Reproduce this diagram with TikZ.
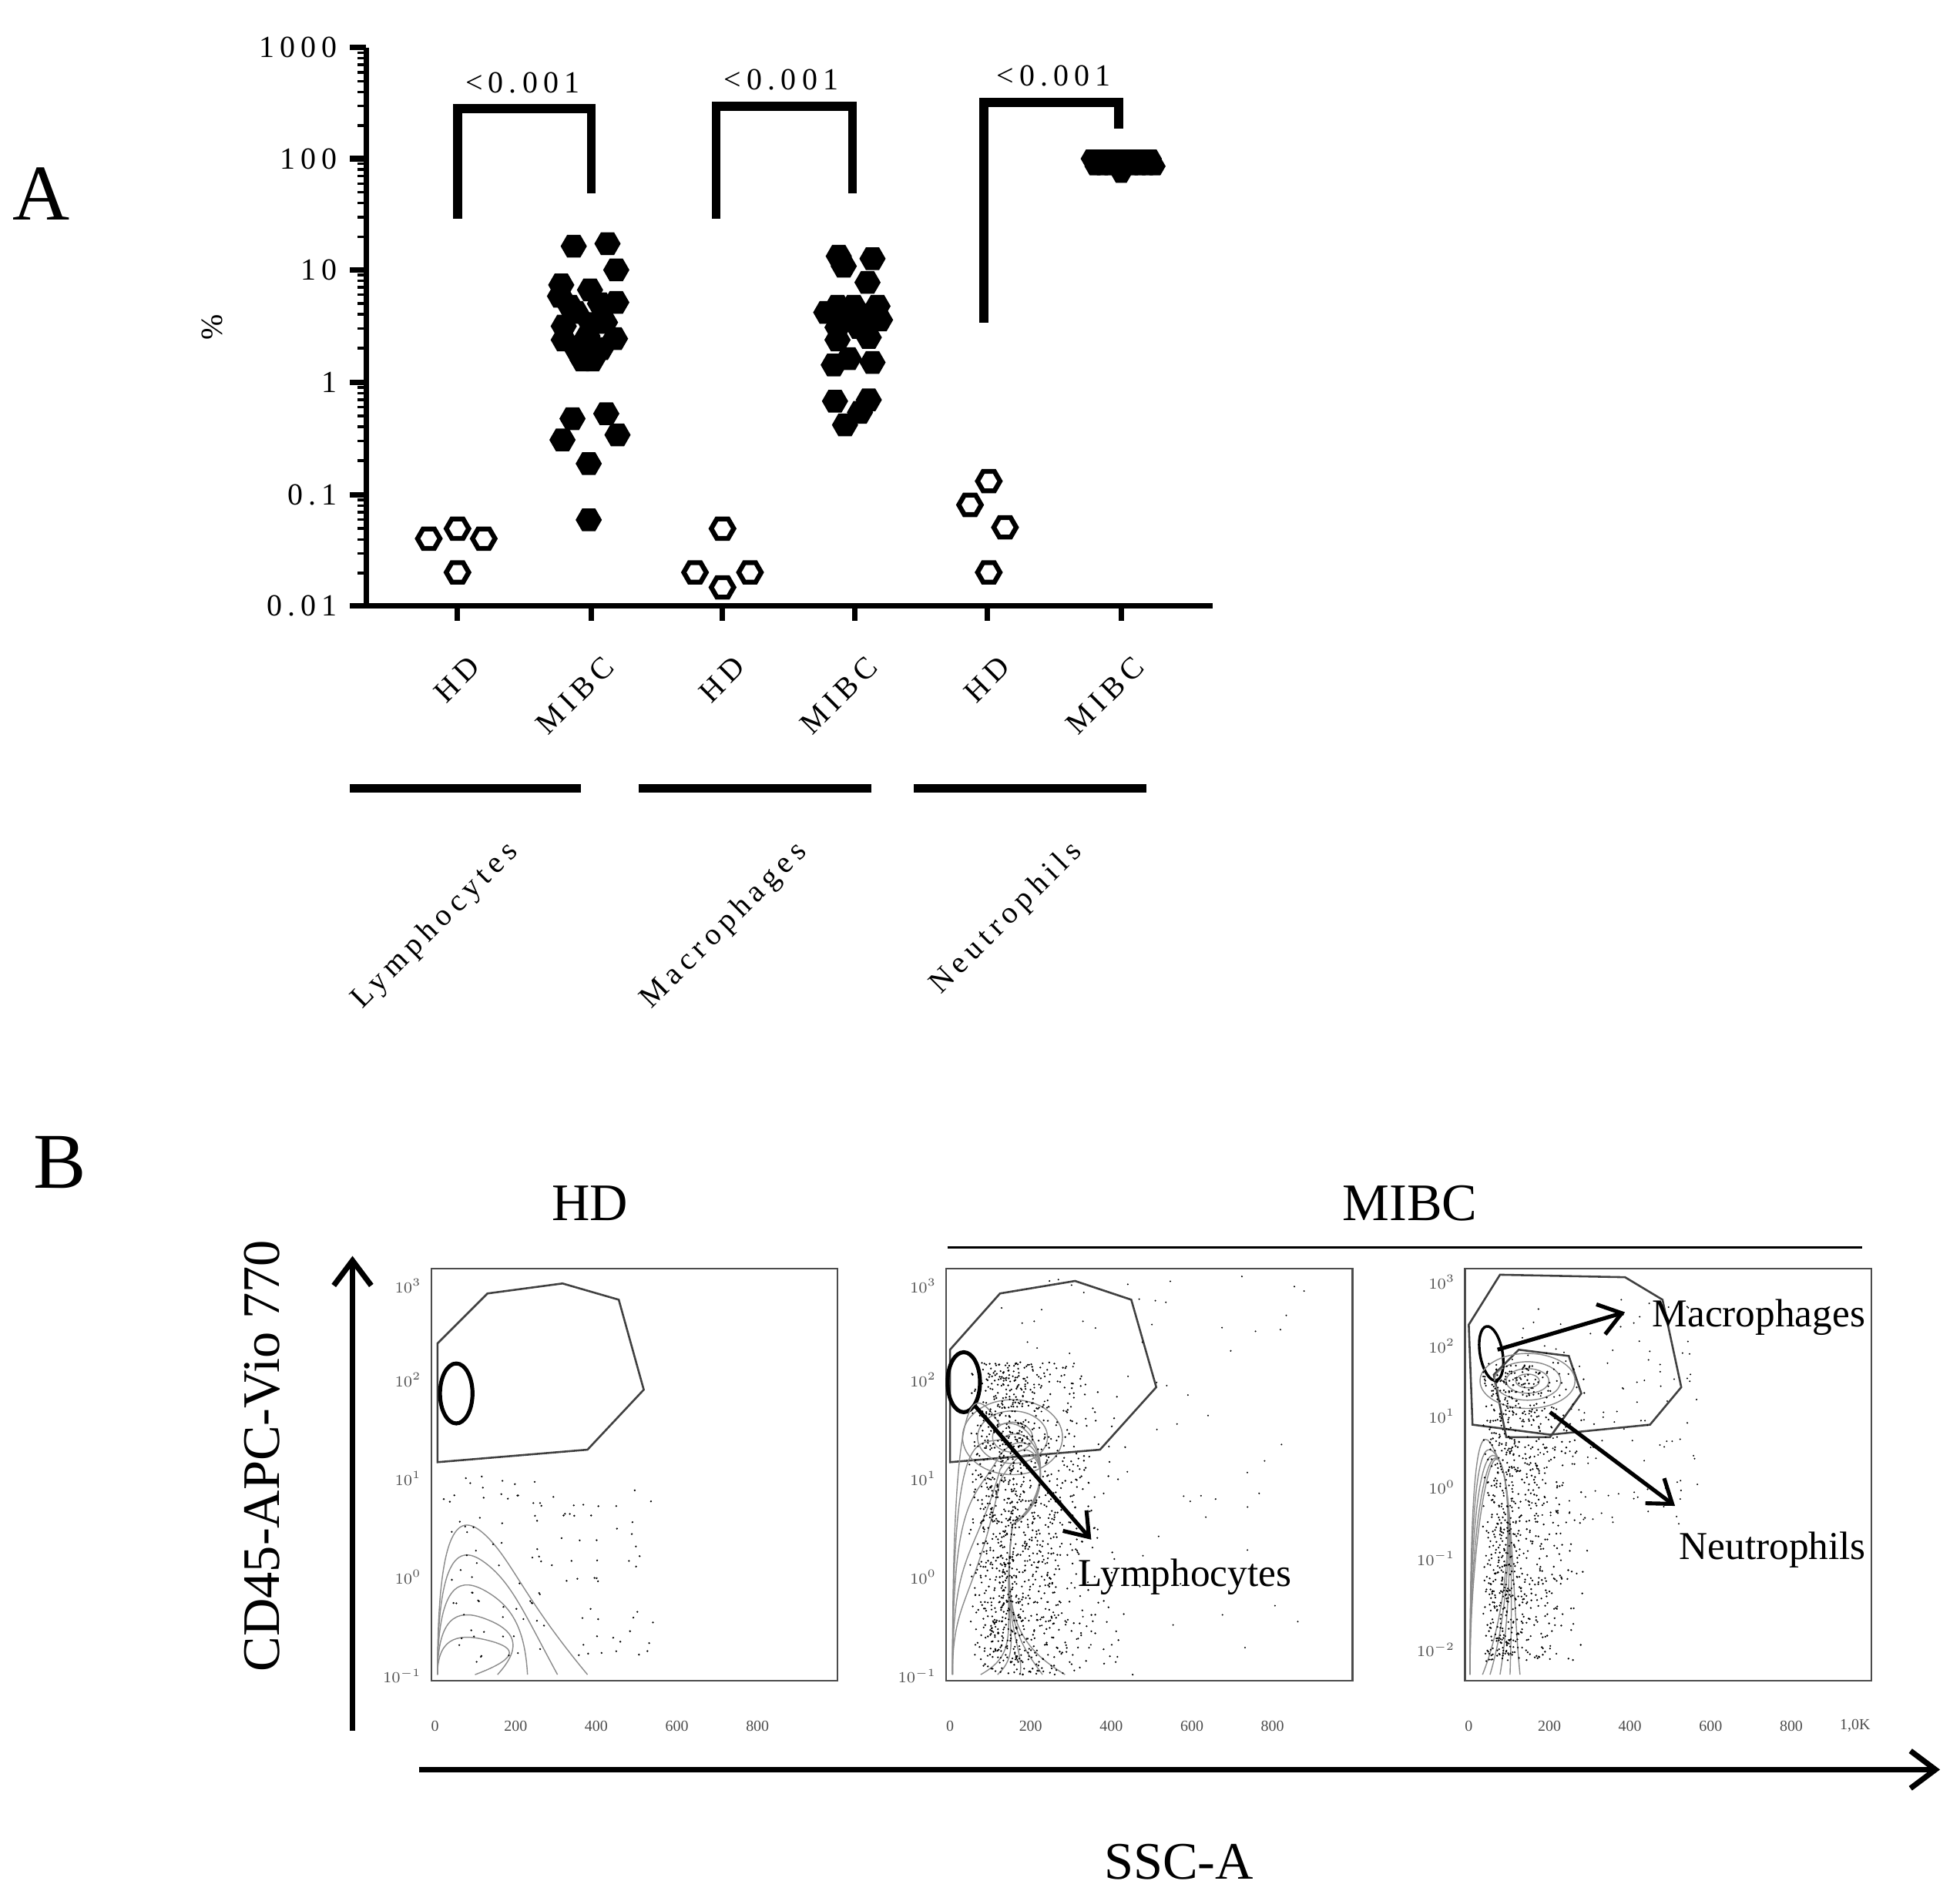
\documentclass[tikz,border=0pt]{standalone}
\usepackage{fontspec}
\setmainfont{Liberation Serif}
\newfontfamily\spc{Liberation Serif}[LetterSpace=18]
\usetikzlibrary{shapes.geometric,arrows.meta}
\begin{document}
\begin{tikzpicture}[x=0.02cm,y=-0.02cm,
 hexf/.style={regular polygon,regular polygon sides=6,fill=black,inner sep=0,minimum size=0.42cm},
 hexs/.style={regular polygon,regular polygon sides=6,fill=black,inner sep=0,minimum size=0.34cm},
 hexo/.style={regular polygon,regular polygon sides=6,draw=black,line width=2.2pt,fill=white,inner sep=0,minimum size=0.36cm},
 ax/.style={line width=2.5pt},
 tl/.style={font=\spc\fontsize{14}{14}\selectfont},
 gate/.style={draw=black!75,line width=0.9pt},
 cont/.style={draw=black!45,line width=0.5pt},
 sm/.style={font=\fontsize{7}{7}\selectfont,text=black!70},
 lbl/.style={font=\fontsize{18}{18}\selectfont},
 arr/.style={line width=1.8pt,-{Straight Barb[length=0.35cm,width=0.5cm]}}]
\useasboundingbox (0,0) rectangle (1568,1521);
\node[font=\fontsize{36}{36}\selectfont] (A) at (33,155) {A};
% axes
\draw[ax] (293,38) coordinate (yt) -- (293,485) coordinate (o) -- (970,485) coordinate (xr);
\foreach \y/\t in {38/1000,127/100,216/10,306/1,396/0.1,485/0.01}{
 \draw[ax] (280,\y)--(293,\y); \node[tl,anchor=east] at (276,\y) {\t};
 }
\foreach \d in {38,127,216,306,396}{\foreach \k in {2,...,9}{\draw[line width=1.2pt] (286,{\d+89.4*(1-log10(\k))})--(293,{\d+89.4*(1-log10(\k))});}}
\node[tl,rotate=90] (pct) at (170,262) {\%};
\foreach \x/\t in {366/HD,473/MIBC,578/HD,684/MIBC,790/HD,897/MIBC}{
 \draw[ax] (\x,485)--(\x,497);
 \node[tl,rotate=45,anchor=north east] at (\x+8,515) {\t};}
\foreach \a/\b/\t/\c in {280/465/Lymphocytes/373,511/697/Macrophages/604,731/917/Neutrophils/824}{
 \draw[line width=4pt] (\a,631)--(\b,631);
 \node[tl,rotate=45,anchor=north east] at (\c+30,662) {\t};}
% brackets
\draw[line width=4pt] (366,175)--(366,87)--(473,87)--(473,155);
\node[tl] at (418,66) {<0.001};
\draw[line width=4pt] (573,175)--(573,85)--(682,85)--(682,155);
\node[tl] at (625,64) {<0.001};
\draw[line width=4pt] (787,258)--(787,82)--(895,82)--(895,103);
\node[tl] at (843,61) {<0.001};
% points
\foreach \p in {(343,431),(366,423),(387,431),(366,458),(578,423),(556,458),(600,458),(578,470),(791,385),(776,404),(804,422),(791,458)}{\node[hexo] at \p {};}
\foreach \p in {(459,197),(486,195),(449,228),(493,216),(472,232),(448,237),(456,245),(480,243),(493,242),(461,250),(451,261),(473,259),(484,258),(470,269),(451,272),(492,271),(461,279),(481,279),(466,288),(474,288),(458,335),(485,331),(450,352),(494,348),(471,371),(471,416),
(671,205),(698,207),(675,213),(694,226),(670,245),(683,245),(702,245),(661,250),(677,254),(690,252),(704,256),(670,262),(687,262),(670,272),(695,270),(679,287),(698,290),(667,292),(668,321),(695,320),(688,330),(676,340)}{\node[hexf] at \p {};}
\foreach \x in {873,879,...,921}{\node[hexs] at (\x,127) {}; \node[hexs] at (\x+3,133) {};}
\node[hexs] at (897,139) {};
% Panel B
\node[font=\fontsize{36}{36}\selectfont] (B) at (48,930) {B};
\node[font=\fontsize{24}{24}\selectfont] (hd) at (472,963) {HD};
\node[font=\fontsize{24}{24}\selectfont] (mibc) at (1128,963) {MIBC};
\draw[line width=1.2pt] (758,998)--(1490,998);
\coordinate (v0) at (282,1385); \coordinate (v1) at (282,1005);
\draw[line width=2.5pt,-{Straight Barb[length=0.4cm,width=0.6cm]}] (v0)--(v1);
\node[font=\fontsize{24}{24}\selectfont,rotate=90] (yl) at (210,1165) {CD45-APC-Vio 770};
\coordinate (h0) at (335,1416); \coordinate (h1) at (1552,1416);
\draw[line width=2.5pt,-{Straight Barb[length=0.4cm,width=0.6cm]}] (h0)--(h1);
\node[font=\fontsize{24}{24}\selectfont] (xl) at (943,1490) {SSC-A};
% frames
\foreach \X in {345,757,1172}{
 \draw[black!70,line width=0.8pt] (\X,1015) rectangle (\X+325,1345);
 \foreach \i/\t in {0/0,1/200,2/400,3/600,4/800}{\node[sm] at (\X+3+\i*64.5,1381) {\t};}
}
\node[sm] at (1484,1381) {1,0K};
\foreach \X in {345,757}{
 \foreach \y/\e in {1029/3,1104/2,1183/1,1262/0,1341/{-1}}{\node[sm,anchor=east] at (\X-2,\y) {$10^{\e}$};}}
\foreach \y/\e in {1026/3,1077/2,1133/1,1190/0,1247/{-1},1320/{-2}}{\node[sm,anchor=east] at (1170,\y) {$10^{\e}$};}
% plot 1
\draw[gate] (350,1075)--(390,1035)--(450,1027)--(495,1040)--(515,1112)--(470,1160)--(350,1170)--cycle;
\draw[line width=1.8pt] (365,1115) ellipse ({13} and {24});
\foreach \s in {1,0.8,0.6,0.4,0.25}{\draw[cont] (350,1340) .. controls (350,{1340-130*\s}) and (370,{1340-130*\s}) .. (390,{1340-110*\s}) .. controls (410,{1340-90*\s}) and (420,{1340-60*\s}) .. ({350+120*\s},1340);}
\pgfmathsetseed{7}
\foreach \i in {1,...,120}{\fill ({355+rnd*170},{1180+rnd*150}) circle (0.8);}
% plot 2
\draw[gate] (760,1080)--(800,1035)--(860,1025)--(905,1040)--(925,1110)--(880,1160)--(760,1170)--cycle;
\draw[line width=1.8pt] (771,1106) ellipse ({13} and {24});
\foreach \s in {1,0.8,0.6,0.4,0.25}{\draw[cont] (762,1340) .. controls (762,{1340-250*\s}) and (780,{1340-230*\s}) .. (800,{1200-60*\s}) .. controls (830,1130) and (850,{1200-10*\s}) .. (810,1220) .. controls (800,1300) and (820,1320) .. ({762+90*\s},1340);}
\foreach \s in {1,0.7,0.4}{\draw[cont] (810,1150) ellipse ({40*\s} and {30*\s});}
\foreach \i in {1,...,1300}{\fill ({775+110*rnd*rnd+30*rnd},{1090+250*rnd}) circle (0.8);}
\foreach \i in {1,...,80}{\fill ({800+rnd*250},{1020+rnd*300}) circle (0.7);}
\coordinate (l0) at (780,1125); \coordinate (l1) at (873,1232);
\draw[arr] (l0)--(l1);
\node[lbl] (lym) at (948,1262) {Lymphocytes};
% plot 3
\draw[gate] (1175,1060)--(1200,1020)--(1300,1022)--(1330,1040)--(1345,1110)--(1320,1140)--(1240,1148)--(1178,1140)--cycle;
\draw[line width=1.2pt,rotate around={10:(1193,1083)}] (1193,1083) ellipse ({9} and {22});
\draw[gate] (1195,1100)--(1215,1080)--(1255,1085)--(1265,1115)--(1240,1150)--(1205,1150)--cycle;
\foreach \s in {1,0.7,0.45,0.25}{\draw[cont] (1222,1105) ellipse ({38*\s} and {22*\s});}
\foreach \s in {1,0.8,0.6,0.4,0.25}{\draw[cont] (1176,1340) .. controls (1176,{1300-200*\s}) and (1190,1150) .. (1200,1170) .. controls (1210,1190) and (1210,1280) .. ({1176+40*\s},1340);}
\foreach \i in {1,...,900}{\fill ({1185+80*rnd*rnd+20*rnd},{1090+240*rnd}) circle (0.8);}
\foreach \i in {1,...,150}{\fill ({1200+rnd*160},{1040+rnd*180}) circle (0.7);}
\coordinate (m0) at (1198,1080); \coordinate (m1) at (1300,1050);
\draw[arr] (m0)--(m1);
\coordinate (n0) at (1240,1130); \coordinate (n1) at (1340,1205);
\draw[arr] (n0)--(n1);
\node[lbl] (mac) at (1407,1054) {Macrophages};
\node[lbl] (neu) at (1418,1240) {Neutrophils};
\end{tikzpicture}
\end{document}
